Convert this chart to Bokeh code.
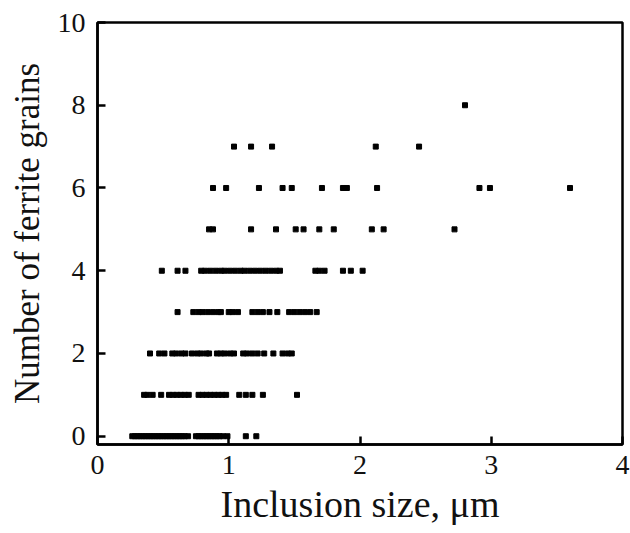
from bokeh.plotting import figure
from bokeh.models import FixedTicker, Range1d
from bokeh.embed import file_html
from bokeh.resources import INLINE

# Number of ferrite grains vs inclusion size (um)
x_g0 = [0.265, 0.285, 0.305, 0.325, 0.345, 0.365, 0.385, 0.405, 0.425, 0.445, 0.465,
        0.485, 0.505, 0.525, 0.545, 0.565, 0.585, 0.605, 0.625, 0.645, 0.665, 0.69,
        0.75, 0.77, 0.79, 0.81, 0.83, 0.85, 0.87, 0.89, 0.91, 0.93, 0.955, 0.99,
        1.13, 1.21]
x_g1 = [0.355, 0.38, 0.42, 0.485, 0.545, 0.575, 0.605, 0.635, 0.665, 0.695,
        0.77, 0.80, 0.83, 0.86, 0.89, 0.92, 0.95, 0.98, 1.08, 1.13, 1.18, 1.26, 1.52]
x_g2 = [0.40, 0.47, 0.51, 0.57, 0.60, 0.64, 0.67, 0.72, 0.76, 0.79, 0.83, 0.85,
        0.91, 0.94, 0.97, 1.01, 1.04, 1.11, 1.14, 1.18, 1.22, 1.27, 1.34, 1.41, 1.45, 1.48]
x_g3 = [0.61, 0.73, 0.77, 0.80, 0.84, 0.88, 0.92, 0.94, 1.00, 1.03, 1.07,
        1.18, 1.22, 1.26, 1.31, 1.37, 1.46, 1.50, 1.54, 1.58, 1.62, 1.67]
x_g4 = [0.49, 0.61, 0.67, 0.79, 0.82, 0.86, 0.90, 0.94, 0.97, 1.01, 1.05, 1.09, 1.12,
        1.16, 1.20, 1.24, 1.28, 1.32, 1.36, 1.39, 1.66, 1.69, 1.73, 1.87, 1.93, 2.02]
x_g5 = [0.85, 0.88, 1.17, 1.36, 1.51, 1.57, 1.69, 1.80, 2.09, 2.18, 2.72]
x_g6 = [0.88, 0.98, 1.23, 1.41, 1.48, 1.71, 1.87, 1.90, 2.13, 2.91, 2.99, 3.60]
x_g7 = [1.04, 1.17, 1.33, 2.12, 2.45]
x_g8 = [2.80]

rows = [x_g0, x_g1, x_g2, x_g3, x_g4, x_g5, x_g6, x_g7, x_g8]
xs, ys = [], []
for n, row in enumerate(rows):
    xs.extend(row)
    ys.extend([n] * len(row))

x_ticks = [0, 1, 2, 3, 4]
y_ticks = [0, 2, 4, 6, 8, 10]

p = figure(width=630, height=533, output_backend="svg", toolbar_location=None,
           x_range=Range1d(0, 4), y_range=Range1d(-0.2, 10),
           min_border_left=97, min_border_right=8, min_border_top=22, min_border_bottom=89)

p.scatter(xs, ys, marker="square", size=5, color="black")

p.grid.visible = False
p.outline_line_color = "black"
p.outline_line_width = 2.5
p.background_fill_color = "white"
p.border_fill_color = "white"

FONT = "Liberation Serif"
for ax in (p.xaxis[0], p.yaxis[0]):
    ax.axis_line_width = 2.5
    ax.axis_line_color = "black"
    ax.major_tick_in = 8
    ax.major_tick_out = 0
    ax.major_tick_line_width = 2.5
    ax.minor_tick_line_color = None
    ax.major_label_text_font = FONT
    ax.major_label_text_font_size = "28px"
    ax.major_label_text_color = "#111111"
    ax.axis_label_text_font = FONT
    ax.axis_label_text_font_style = "normal"
    ax.axis_label_text_color = "#111111"

p.xaxis.axis_label_text_font_size = "38px"
p.yaxis.axis_label_text_font_size = "35px"
p.xaxis.ticker = FixedTicker(ticks=x_ticks)
p.yaxis.ticker = FixedTicker(ticks=y_ticks)
p.xaxis.axis_label = "Inclusion size, μm"
p.yaxis.axis_label = "Number of ferrite grains"
p.xaxis.major_label_standoff = 11
p.yaxis.major_label_standoff = 12
p.xaxis.axis_label_standoff = 6
p.yaxis.axis_label_standoff = 8

open("out.html", "w").write(file_html(p, INLINE))
